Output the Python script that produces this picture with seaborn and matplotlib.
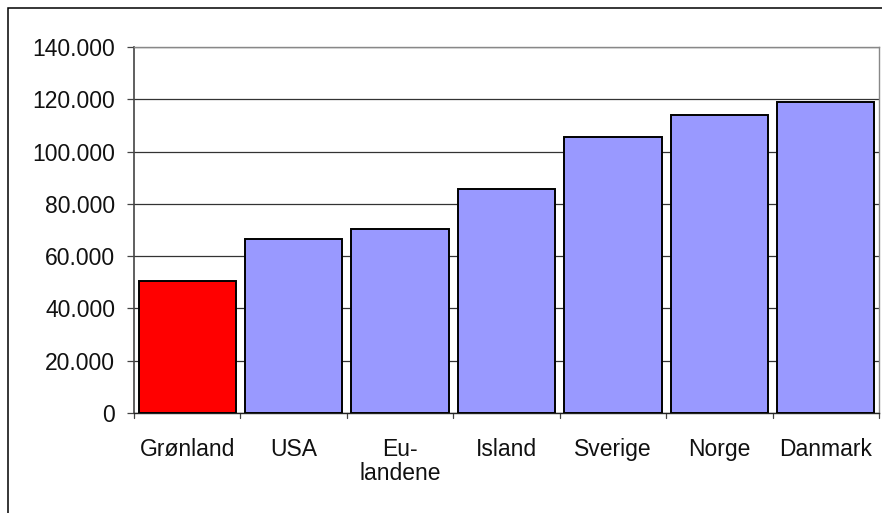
import matplotlib
matplotlib.use("Agg")
import matplotlib.pyplot as plt
from matplotlib.patches import Rectangle
from matplotlib.ticker import FuncFormatter, MultipleLocator
import seaborn as sns
import pandas as pd

# Values per country
countries = ["Grønland", "USA", "Eu-\nlandene", "Island", "Sverige", "Norge", "Danmark"]
values = [50500, 66700, 70300, 85800, 105500, 114000, 118900]
bar_colors = ["#FF0000", "#9999FF", "#9999FF", "#9999FF", "#9999FF", "#9999FF", "#9999FF"]

sns.set_theme(style="white")
plt.rcParams["font.family"] = ["Liberation Sans", "DejaVu Sans"]

df = pd.DataFrame({"land": countries, "værdi": values})

fig = plt.figure(figsize=(8.82, 5.13), dpi=100)
ax = fig.add_axes([134 / 882, 1 - 413 / 513, 745 / 882, 366 / 513])

sns.barplot(data=df, x="land", y="værdi", hue="land", palette=bar_colors,
            legend=False, width=0.915, edgecolor="black", linewidth=1.4,
            saturation=1, ax=ax, zorder=3)

ax.set_ylim(0, 140000)
ax.set_xlim(-0.5, len(countries) - 0.5)
ax.yaxis.set_major_locator(MultipleLocator(20000))
ax.yaxis.set_major_formatter(
    FuncFormatter(lambda v, _: f"{int(v):,}".replace(",", ".")))
ax.grid(axis="y", color="#333333", linewidth=0.9, zorder=0)
ax.set_axisbelow(True)
ax.set_xlabel("")
ax.set_ylabel("")

# Category ticks sit between bars
ax.set_xticks(range(len(countries)))
ax.set_xticklabels(countries, fontsize=16.5, linespacing=1.05,
                   color="#111111")
ax.tick_params(axis="x", length=0, pad=18)
for b in [i - 0.5 for i in range(len(countries) + 1)]:
    ax.plot([b, b], [0, -0.014], transform=ax.get_xaxis_transform(),
            color="#444444", lw=0.9, clip_on=False)
ax.tick_params(axis="y", left=True, length=5, width=0.9, color="#444444",
               labelsize=16.5, labelcolor="#111111", pad=8.5)

for side in ["top", "right"]:
    ax.spines[side].set_visible(True)
    ax.spines[side].set_color("#888888")
    ax.spines[side].set_linewidth(1.0)
ax.spines["left"].set_color("#444444")
ax.spines["left"].set_linewidth(1.2)
ax.spines["bottom"].set_color("#222222")
ax.spines["bottom"].set_linewidth(1.0)

# Chart frame
fig.add_artist(Rectangle((8 / 882, -0.2), 2, 1 - 8 / 513 + 0.2,
                         transform=fig.transFigure, fill=False,
                         edgecolor="black", linewidth=1.1))

fig.savefig("out.png", dpi=100, facecolor="white")
